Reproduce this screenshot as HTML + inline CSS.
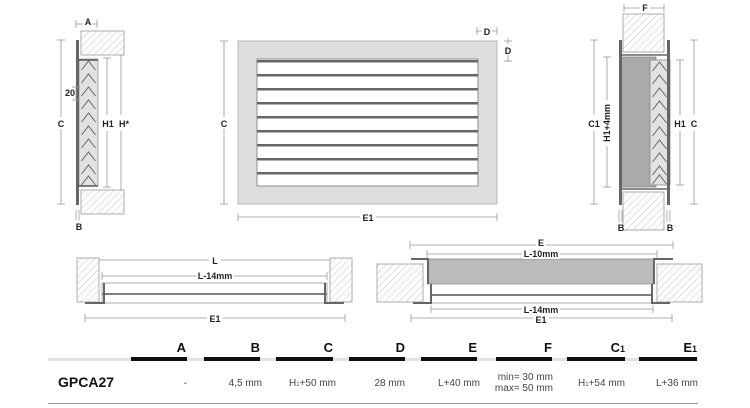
<!DOCTYPE html>
<html><head><meta charset="utf-8"><style>
html,body{margin:0;padding:0;background:#fff;}
svg{display:block;font-family:"Liberation Sans",Arial,sans-serif;}
.d{stroke:#999;stroke-width:0.8;fill:none}
.t{font-weight:bold;font-size:9px;fill:#222;text-anchor:middle}
.h{font-weight:bold;font-size:13px;fill:#111;text-anchor:end}
.v{font-size:10px;fill:#444;text-anchor:end}
.cv{fill:none;stroke:#666;stroke-width:1}
</style></head><body>
<svg width="750" height="408" viewBox="0 0 750 408" xmlns="http://www.w3.org/2000/svg">
<defs>
<pattern id="hatch" width="5" height="5" patternUnits="userSpaceOnUse" patternTransform="rotate(45)">
<rect width="5" height="5" fill="#fff"/><line x1="0" y1="0" x2="0" y2="5" stroke="#bbb" stroke-width="0.8"/>
</pattern>
<g id="chv"><polyline class="cv" points="-7,9 0,0 7,9"/></g>
</defs>

<!-- ===== Left side view ===== -->
<rect x="81" y="31" width="43" height="24" fill="url(#hatch)" stroke="#999" stroke-width="0.8"/>
<rect x="81" y="190" width="43" height="24" fill="url(#hatch)" stroke="#999" stroke-width="0.8"/>
<rect x="79" y="59" width="19" height="127" fill="#e2e2e2" stroke="#999" stroke-width="0.8"/>
<g transform="translate(88.5,0)">
<use href="#chv" y="61"/><use href="#chv" y="74"/><use href="#chv" y="87"/><use href="#chv" y="100"/>
<use href="#chv" y="113"/><use href="#chv" y="126"/><use href="#chv" y="139"/><use href="#chv" y="152"/>
<use href="#chv" y="165"/><use href="#chv" y="176"/>
</g>
<rect x="76" y="40" width="3" height="165" fill="#666"/>
<path d="M78,60 H98 M78,186 H98" stroke="#555" stroke-width="1.5"/>
<line class="d" x1="61" y1="40" x2="61" y2="204"/><line class="d" x1="57" y1="40" x2="65" y2="40"/><line class="d" x1="57" y1="204" x2="65" y2="204"/>
<rect x="56" y="117" width="10" height="12" fill="#fff"/><text class="t" x="61" y="127" font-size="10">C</text>
<line class="d" x1="107" y1="58" x2="107" y2="115"/><line class="d" x1="107" y1="131" x2="107" y2="187"/>
<line class="d" x1="103" y1="58" x2="111" y2="58"/><line class="d" x1="103" y1="187" x2="111" y2="187"/>
<text class="t" x="108" y="127" font-size="10">H1</text>
<line class="d" x1="121" y1="55" x2="121" y2="115"/><line class="d" x1="121" y1="131" x2="121" y2="190"/>
<text class="t" x="124" y="127" font-size="10">H*</text>
<line class="d" x1="76" y1="24" x2="97" y2="24"/><line class="d" x1="76" y1="20" x2="76" y2="28"/><line class="d" x1="97" y1="20" x2="97" y2="28"/>
<rect x="83" y="17" width="9" height="10" fill="#fff"/><text class="t" x="88" y="25">A</text>
<line class="d" x1="76" y1="210" x2="76" y2="220"/><line class="d" x1="79" y1="210" x2="79" y2="220"/>
<text class="t" x="79" y="230">B</text>
<line class="d" x1="76" y1="87" x2="76" y2="100"/><line class="d" x1="72" y1="87" x2="80" y2="87"/><line class="d" x1="72" y1="100" x2="80" y2="100"/>
<text class="t" x="70" y="96" font-size="6" font-weight="normal">20</text>

<!-- ===== Center front view ===== -->
<rect x="238" y="41" width="259" height="163" fill="#dedede" stroke="#aaa" stroke-width="0.8"/>
<rect x="257" y="59" width="221" height="127" fill="#fff" stroke="#777" stroke-width="0.8"/>
<g fill="#666">
<rect x="257" y="60" width="221" height="2.5"/><rect x="257" y="74" width="221" height="2.5"/>
<rect x="257" y="88" width="221" height="2.5"/><rect x="257" y="102" width="221" height="2.5"/>
<rect x="257" y="116" width="221" height="2.5"/><rect x="257" y="130" width="221" height="2.5"/>
<rect x="257" y="144" width="221" height="2.5"/><rect x="257" y="158" width="221" height="2.5"/>
<rect x="257" y="172" width="221" height="2.5"/>
</g>
<line class="d" x1="224" y1="41" x2="224" y2="204"/><line class="d" x1="220" y1="41" x2="228" y2="41"/><line class="d" x1="220" y1="204" x2="228" y2="204"/>
<rect x="219" y="117" width="10" height="12" fill="#fff"/><text class="t" x="224" y="127">C</text>
<line class="d" x1="238" y1="217" x2="497" y2="217"/><line class="d" x1="238" y1="213" x2="238" y2="221"/><line class="d" x1="497" y1="213" x2="497" y2="221"/>
<rect x="360" y="211" width="16" height="12" fill="#fff"/><text class="t" x="368" y="221">E1</text>
<line class="d" x1="476" y1="31" x2="497" y2="31"/><line class="d" x1="477" y1="27" x2="477" y2="35"/><line class="d" x1="497" y1="27" x2="497" y2="35"/>
<rect x="482" y="25" width="10" height="11" fill="#fff"/><text class="t" x="487" y="35">D</text>
<line class="d" x1="508" y1="38" x2="508" y2="62"/><line class="d" x1="504" y1="41" x2="512" y2="41"/><line class="d" x1="504" y1="61" x2="512" y2="61"/>
<rect x="503" y="44" width="10" height="11" fill="#fff"/><text class="t" x="508" y="54">D</text>

<!-- ===== Right side view ===== -->
<rect x="623" y="14" width="41" height="38" fill="url(#hatch)" stroke="#999" stroke-width="0.8"/>
<rect x="623" y="192" width="41" height="38" fill="url(#hatch)" stroke="#999" stroke-width="0.8"/>
<rect x="620" y="57" width="36" height="130" fill="#aaa" stroke="#888" stroke-width="0.8"/>
<rect x="650" y="60" width="20" height="125" fill="#e2e2e2" stroke="#888" stroke-width="0.8"/>
<g transform="translate(659.5,0)">
<use href="#chv" y="62"/><use href="#chv" y="75"/><use href="#chv" y="88"/><use href="#chv" y="101"/>
<use href="#chv" y="114"/><use href="#chv" y="127"/><use href="#chv" y="140"/><use href="#chv" y="153"/>
<use href="#chv" y="166"/><use href="#chv" y="175"/>
</g>
<rect x="619" y="40" width="3" height="165" fill="#666"/>
<rect x="667" y="40" width="3" height="165" fill="#666"/>
<path d="M620,55 H669 M620,189 H669" stroke="#666" stroke-width="1.5"/>
<line class="d" x1="594" y1="40" x2="594" y2="115"/><line class="d" x1="594" y1="131" x2="594" y2="204"/>
<line class="d" x1="590" y1="40" x2="598" y2="40"/><line class="d" x1="590" y1="204" x2="598" y2="204"/>
<text class="t" x="594" y="127" font-size="10">C1</text>
<line class="d" x1="607" y1="57" x2="607" y2="100"/><line class="d" x1="607" y1="146" x2="607" y2="187"/>
<line class="d" x1="603" y1="57" x2="611" y2="57"/><line class="d" x1="603" y1="187" x2="611" y2="187"/>
<text class="t" x="0" y="0" transform="translate(610,123) rotate(-90)">H1+4mm</text>
<line class="d" x1="680" y1="60" x2="680" y2="115"/><line class="d" x1="680" y1="131" x2="680" y2="185"/>
<line class="d" x1="676" y1="60" x2="684" y2="60"/><line class="d" x1="676" y1="185" x2="684" y2="185"/>
<text class="t" x="680" y="127" font-size="10">H1</text>
<line class="d" x1="694" y1="40" x2="694" y2="115"/><line class="d" x1="694" y1="131" x2="694" y2="204"/>
<line class="d" x1="690" y1="40" x2="698" y2="40"/><line class="d" x1="690" y1="204" x2="698" y2="204"/>
<text class="t" x="694" y="127" font-size="10">C</text>
<line class="d" x1="624" y1="8" x2="664" y2="8"/><line class="d" x1="624" y1="4" x2="624" y2="12"/><line class="d" x1="664" y1="4" x2="664" y2="12"/>
<rect x="640" y="2" width="10" height="11" fill="#fff"/><text class="t" x="645" y="11">F</text>
<line class="d" x1="619" y1="210" x2="619" y2="222"/><line class="d" x1="622" y1="210" x2="622" y2="222"/>
<line class="d" x1="667" y1="210" x2="667" y2="222"/><line class="d" x1="670" y1="210" x2="670" y2="222"/>
<text class="t" x="621" y="231">B</text><text class="t" x="670" y="231">B</text>

<!-- ===== Bottom left top view ===== -->
<rect x="77" y="258" width="22" height="44" fill="url(#hatch)" stroke="#999" stroke-width="0.8"/>
<rect x="330" y="258" width="22" height="44" fill="url(#hatch)" stroke="#999" stroke-width="0.8"/>
<rect x="102" y="283" width="225" height="20" fill="#fff" stroke="#999" stroke-width="0.8"/>
<line x1="102" y1="294" x2="327" y2="294" stroke="#555" stroke-width="1.5"/>
<path d="M85,303 H104 V283 M344,303 H325 V283" stroke="#666" stroke-width="2" fill="none"/>
<line class="d" x1="99" y1="260" x2="330" y2="260"/>
<rect x="209" y="254" width="12" height="12" fill="#fff"/><text class="t" x="215" y="264">L</text>
<line class="d" x1="102" y1="276" x2="327" y2="276"/><line class="d" x1="102" y1="272" x2="102" y2="280"/><line class="d" x1="327" y1="272" x2="327" y2="280"/>
<rect x="196" y="270" width="38" height="12" fill="#fff"/><text class="t" x="215" y="279">L-14mm</text>
<line class="d" x1="85" y1="318" x2="345" y2="318"/><line class="d" x1="85" y1="314" x2="85" y2="322"/><line class="d" x1="345" y1="314" x2="345" y2="322"/>
<rect x="207" y="312" width="16" height="12" fill="#fff"/><text class="t" x="215" y="322">E1</text>

<!-- ===== Bottom right top view ===== -->
<rect x="377" y="264" width="46" height="38" fill="url(#hatch)" stroke="#999" stroke-width="0.8"/>
<rect x="657" y="264" width="45" height="38" fill="url(#hatch)" stroke="#999" stroke-width="0.8"/>
<rect x="428" y="259" width="226" height="25" fill="#bbb" stroke="#888" stroke-width="0.8"/>
<rect x="431" y="284" width="221" height="19" fill="#fff" stroke="#999" stroke-width="0.8"/>
<line x1="431" y1="295" x2="652" y2="295" stroke="#555" stroke-width="1.5"/>
<path d="M411,259 H428 V284 M673,259 H654 V284 M413,303 H431 V284 M670,303 H652 V284" stroke="#666" stroke-width="2" fill="none"/>
<line class="d" x1="410" y1="245" x2="673" y2="245"/><line class="d" x1="410" y1="241" x2="410" y2="249"/><line class="d" x1="673" y1="241" x2="673" y2="249"/>
<rect x="536" y="238" width="10" height="10" fill="#fff"/><text class="t" x="541" y="246">E</text>
<line class="d" x1="427" y1="254" x2="657" y2="254"/><line class="d" x1="427" y1="250" x2="427" y2="258"/><line class="d" x1="657" y1="250" x2="657" y2="258"/>
<rect x="522" y="249" width="38" height="10" fill="#fff"/><text class="t" x="541" y="257">L-10mm</text>
<line class="d" x1="431" y1="309" x2="653" y2="309"/><line class="d" x1="431" y1="305" x2="431" y2="313"/><line class="d" x1="653" y1="305" x2="653" y2="313"/>
<rect x="522" y="304" width="38" height="10" fill="#fff"/><text class="t" x="541" y="313">L-14mm</text>
<line class="d" x1="411" y1="318" x2="672" y2="318"/><line class="d" x1="411" y1="314" x2="411" y2="322"/><line class="d" x1="672" y1="314" x2="672" y2="322"/>
<rect x="533" y="314" width="16" height="10" fill="#fff"/><text class="t" x="541" y="323">E1</text>

<!-- ===== Table ===== -->
<rect x="48" y="358" width="650" height="3" fill="#e2e2e2"/>
<g fill="#111">
<rect x="131" y="357" width="56" height="4"/><rect x="204" y="357" width="56" height="4"/>
<rect x="276" y="357" width="57" height="4"/><rect x="349" y="357" width="56" height="4"/>
<rect x="421" y="357" width="56" height="4"/><rect x="496" y="357" width="56" height="4"/>
<rect x="567" y="357" width="58" height="4"/><rect x="639" y="357" width="58" height="4"/>
</g>
<text class="h" x="186" y="352">A</text><text class="h" x="260" y="352">B</text>
<text class="h" x="333" y="352">C</text><text class="h" x="405" y="352">D</text>
<text class="h" x="477" y="352">E</text><text class="h" x="552" y="352">F</text>
<text class="h" x="625" y="352">C<tspan font-size="9">1</tspan></text><text class="h" x="697" y="352">E<tspan font-size="9">1</tspan></text>
<text x="58" y="387" font-size="14" font-weight="bold" fill="#111">GPCA27</text>
<text class="v" x="187" y="386">-</text>
<text class="v" x="262" y="386">4,5 mm</text>
<text class="v" x="336" y="386">H<tspan font-size="6">1</tspan>+50 mm</text>
<text class="v" x="405" y="386">28 mm</text>
<text class="v" x="480" y="386">L+40 mm</text>
<text class="v" x="553" y="380" font-size="7.5">min= 30 mm</text>
<text class="v" x="553" y="391" font-size="7.5">max= 50 mm</text>
<text class="v" x="625" y="386">H<tspan font-size="6">1</tspan>+54 mm</text>
<text class="v" x="698" y="386">L+36 mm</text>
<rect x="48" y="403" width="650" height="1" fill="#999"/>
</svg>
</body></html>
